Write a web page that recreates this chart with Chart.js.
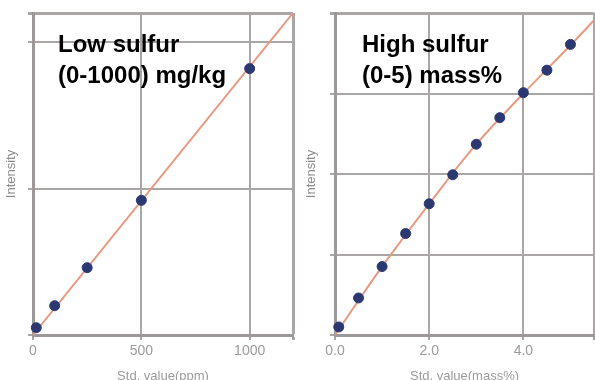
<!DOCTYPE html>
<html lang="en">
<head>
<meta charset="UTF-8">
<title>Sulfur calibration curves</title>
<script src="https://cdn.jsdelivr.net/npm/chart.js"></script>
<style>
    html, body { margin: 0; padding: 0; background: #fff; overflow: hidden; }
    body { width: 595px; height: 380px; position: relative; font-family: "Liberation Sans", Arial, sans-serif; }
    canvas { position: absolute; top: 0; }
    #lowChart { left: 0; }
    #highChart { left: 300px; }
    .note { position: absolute; top: 28px; font-weight: bold; font-size: 24px; line-height: 31px; color: #000; white-space: nowrap; }
</style>
</head>
<body>
<canvas id="lowChart" width="300" height="380"></canvas>
<canvas id="highChart" width="300" height="380"></canvas>
<div class="note" style="left:58px">Low sulfur<br>(0-1000) mg/kg</div>
<div class="note" style="left:362px">High sulfur<br>(0-5) mass%</div>
<script>
// low sulfur: std value (ppm) vs intensity
const lowStd = [15, 100, 250, 500, 1000];
const lowIntensity = [0.05, 0.20, 0.46, 0.92, 1.82];
const lowFitStd = [0, 1200];
const lowFitIntensity = [0, 2.2];
const lowXTicks = [0, 500, 1000];
const lowXLabels = ['0', '500', '1000'];
const lowYTicks = [0, 1, 2];

// high sulfur: std value (mass%) vs intensity
const highStd = [0.08, 0.5, 1.0, 1.5, 2.0, 2.5, 3.0, 3.5, 4.0, 4.5, 5.0];
const highIntensity = [0.10, 0.46, 0.85, 1.26, 1.63, 1.99, 2.37, 2.70, 3.01, 3.29, 3.61];
const highFitStd = [0, 1, 2, 3, 4, 5, 5.5];
const highFitIntensity = [0, 0.85, 1.63, 2.37, 3.0, 3.6, 3.91];
const highXTicks = [0, 2, 4];
const highXLabels = ['0.0', '2.0', '4.0'];
const highYTicks = [0, 1, 2, 3];

Chart.defaults.font.family = '"Liberation Sans", Arial, sans-serif';

const navy = '#2c3872';
const salmon = '#e89a80';
const gridColor = '#aaa6a6';
const frameColor = '#9c9898';
const labelColor = '#9b9b9b';

function makeChart(id, o) {
    const pts = o.x.map((v, i) => ({ x: v, y: o.y[i] }));
    const fit = o.fitX.map((v, i) => ({ x: v, y: o.fitY[i] }));
    return new Chart(document.getElementById(id), {
        type: 'scatter',
        data: {
            datasets: [
                { data: pts, backgroundColor: navy, borderColor: navy, pointRadius: 5, pointHoverRadius: 5, clip: false, order: 1 },
                { data: fit, showLine: true, borderColor: salmon, borderWidth: 2, pointRadius: 0, tension: o.tension, order: 2 }
            ]
        },
        options: {
            responsive: false,
            animation: false,
            layout: { padding: { top: 13, right: o.padRight, left: 0, bottom: 0 } },
            plugins: { legend: { display: false }, tooltip: { enabled: false } },
            scales: {
                x: {
                    type: 'linear', min: 0, max: o.xMax,
                    afterBuildTicks: s => { s.ticks = o.xTicks.concat([o.xMax]).map(v => ({ value: v })); },
                    ticks: {
                        color: labelColor, font: { size: 14 }, padding: 3, maxRotation: 0, autoSkip: false,
                        callback: v => { const i = o.xTicks.indexOf(v); return i < 0 ? '' : o.xLabels[i]; }
                    },
                    grid: { color: gridColor, lineWidth: c => (c.tick && c.tick.value === o.xMax ? 3 : 2), tickLength: 5 },
                    border: { color: frameColor, width: 3 },
                    title: { display: true, text: o.xTitle, color: labelColor, font: { size: 13, lineHeight: 1 }, padding: { top: 0, bottom: -3 } },
                    afterFit: s => { s.height = 45; }
                },
                y: {
                    min: 0, max: o.yMax,
                    afterBuildTicks: s => { s.ticks = o.yTicks.concat([o.yMax]).map(v => ({ value: v })); },
                    ticks: { display: false },
                    grid: { color: gridColor, lineWidth: c => (c.tick && c.tick.value === o.yMax ? 3 : 2), tickLength: 5 },
                    border: { color: frameColor, width: 3 },
                    title: { display: true, text: 'Intensity', color: '#8a8a8a', font: { size: 13, lineHeight: 1 }, padding: { top: 5, bottom: 0 } },
                    afterFit: s => { s.width = o.yWidth; }
                }
            }
        }
    });
}

makeChart('lowChart', {
    x: lowStd, y: lowIntensity, fitX: lowFitStd, fitY: lowFitIntensity, tension: 0,
    xMax: 1200, xTicks: lowXTicks, xLabels: lowXLabels, xTitle: 'Std. value(ppm)',
    yMax: 2.2, yTicks: lowYTicks, yWidth: 33, padRight: 7
});

makeChart('highChart', {
    x: highStd, y: highIntensity, fitX: highFitStd, fitY: highFitIntensity, tension: 0.4,
    xMax: 5.5, xTicks: highXTicks, xLabels: highXLabels, xTitle: 'Std. value(mass%)',
    yMax: 4, yTicks: highYTicks, yWidth: 35, padRight: 3
});
</script>
</body>
</html>
